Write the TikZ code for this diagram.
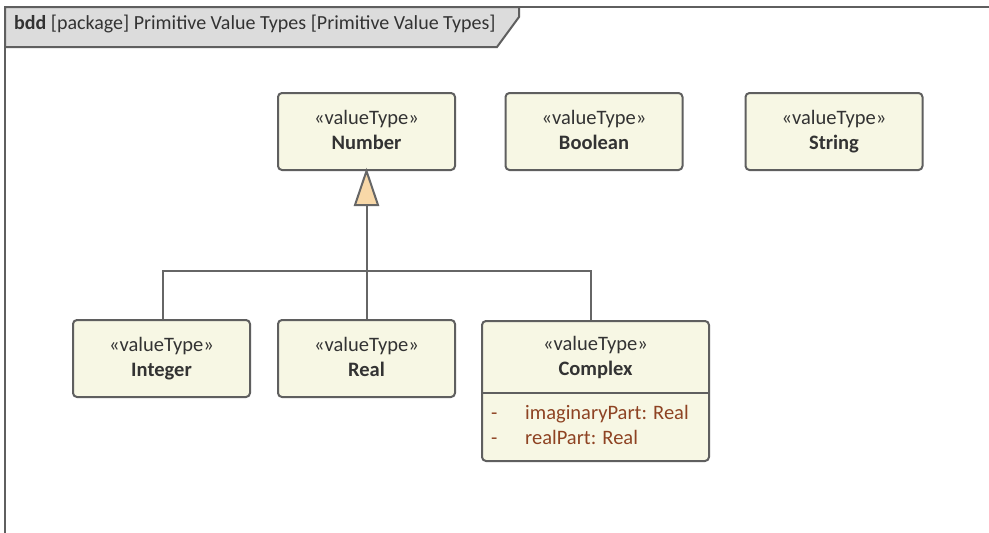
\documentclass[tikz,border=0pt]{standalone}
\usepackage{fontspec}
\setmainfont{Carlito}
\definecolor{boxfill}{HTML}{F7F7E4}
\definecolor{boxline}{HTML}{5F5F5F}
\definecolor{txt}{HTML}{333333}
\definecolor{attr}{HTML}{8E4323}
\definecolor{tabfill}{HTML}{DCDCDC}
\definecolor{trifill}{HTML}{F8D8A8}
\definecolor{conncol}{HTML}{666666}
\newcommand{\lnstrut}{\rule[-4pt]{0pt}{19pt}}
\newcommand{\twoline}[2]{\lnstrut\smash{#1}\\\lnstrut\smash{\textbf{#2}}}
\begin{document}
\begin{tikzpicture}[x=1pt,y=-1pt,
  txtfont/.style={font=\fontsize{20.5}{25}\selectfont},
  vt/.style={draw=boxline, fill=boxfill, line width=2pt, rounded corners=4pt,
    minimum width=177pt, minimum height=77pt, align=center, text=txt, inner sep=0pt, txtfont},
  plain/.style={inner sep=0pt, align=center, text=txt, txtfont},
  attrtext/.style={inner sep=0pt, text=attr, txtfont, anchor=base west},
  conn/.style={draw=conncol, line width=2pt},
  gen/.style={draw=conncol, fill=trifill, line width=2pt, line join=miter}]
\useasboundingbox (0,0) rectangle (989,533);
\clip (0,0) rectangle (989,533);
\fill[white] (0,0) rectangle (989,533);
% frame
\draw[draw=boxline, line width=2.4pt] (5,545) -- (5,7) -- (1000,7);
\draw[draw=boxline, fill=tabfill, line width=2pt] (5,7) -- (519,7) -- (519,17) -- (497,47) -- (5,47) -- cycle;
\node[anchor=base west, plain, font=\fontsize{20}{25}\selectfont] (title) at (14,29) {\textbf{bdd} [package] Primitive Value Types [Primitive Value Types]};
% boxes
\node[vt] (number) at (366.5,131.5) {\twoline{«valueType»}{Number}};
\node[vt] (boolean) at (594,131.5) {\twoline{«valueType»}{Boolean}};
\node[vt] (string) at (834,131.5) {\twoline{«valueType»}{String}};
\node[vt] (integer) at (161.5,358.5) {\twoline{«valueType»}{Integer}};
\node[vt] (real) at (366.5,358.5) {\twoline{«valueType»}{Real}};
\node[vt, minimum width=227pt, minimum height=140pt] (complexbox) at (595.5,391) {};
\node[plain] (complex) at (595.5,357.5) {\twoline{«valueType»}{Complex}};
\draw[draw=boxline, line width=2pt] (complexbox.west |- 0,393) -- (complexbox.east |- 0,393);
\node[attrtext] (d1) at (491,419) {-};
\node[attrtext] (a1) at (525,419) {imaginaryPart: Real};
\node[attrtext] (d2) at (491,444) {-};
\node[attrtext] (a2) at (525,444) {realPart: Real};
% generalization
\coordinate (tb) at ([yshift=-34pt]number.south);
\coordinate (j) at ([yshift=-100pt]number.south);
\draw[conn] (real.north) -- (tb);
\draw[conn] ([xshift=1.5pt]integer.north) |- (j) -| ([xshift=-4.5pt]complexbox.north);
\draw[gen] (number.south) -- ([xshift=-11.5pt]tb) -- ([xshift=11.5pt]tb) -- cycle;
\end{tikzpicture}
\end{document}
